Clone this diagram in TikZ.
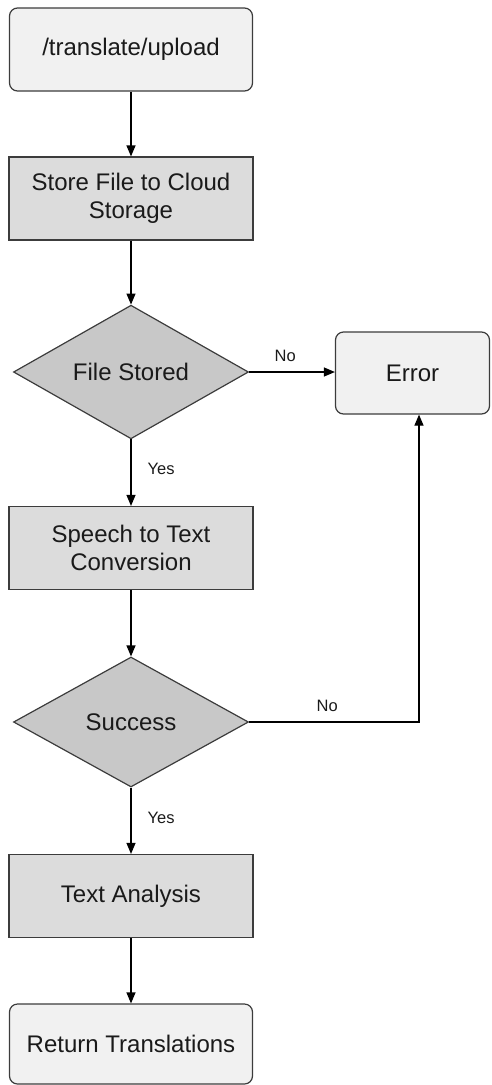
\documentclass[tikz,border=0pt]{standalone}
\usepackage{fontspec}
\setmainfont{Liberation Sans}
\usetikzlibrary{shapes.geometric,arrows.meta}

\definecolor{edge}{HTML}{3C3C3C}
\definecolor{termfill}{HTML}{F1F1F1}
\definecolor{procfill}{HTML}{DCDCDC}
\definecolor{decfill}{HTML}{C8C8C8}
\definecolor{ink}{HTML}{1A1A1A}

\tikzset{
  base/.style={draw=edge, line width=1.2pt, text=ink, align=center,
    font=\fontsize{24}{28}\selectfont, inner sep=0pt},
  term/.style={base, fill=termfill, rounded corners=8pt,
    minimum width=243pt, minimum height=83pt},
  proc/.style={base, fill=procfill, minimum width=244pt, minimum height=83pt},
  decision/.style={base, diamond, fill=decfill, minimum width=235pt, minimum height=130pt},
  arr/.style={draw=black, line width=1.2pt, -{Triangle[length=11pt,width=9pt]}},
  lbl/.style={font=\fontsize{16.5}{18}\selectfont, text=ink, inner sep=0pt}
}

\begin{document}
\begin{tikzpicture}[x=1pt,y=-1pt]
\useasboundingbox (0,0) rectangle (491,1085);

% main column
\node[term]     (upload)  at (131,49.5)  {/translate/upload};
\node[proc]     (store)   at (131,198.5) {Store File to Cloud\\Storage};
\node[decision] (stored)  at (131,372)   {File Stored};
\node[proc]     (speech)  at (131,548)   {Speech to Text\\Conversion};
\node[decision] (success) at (131,722)   {Success};
\node[proc]     (analysis) at (131,896)  {Text Analysis};
\node[term, minimum height=80pt] (result) at (131,1044) {Return Translations};

% error branch
\node[term, minimum width=154pt, minimum height=82pt] (error) at (412.5,373) {Error};
\coordinate (riser) at (419,0);

% connectors
\draw[arr] (upload) -- (store);
\draw[arr] (store) -- (stored);
\draw[arr] (stored) -- node[lbl, pos=0.45, right=16pt] {Yes} (speech);
\draw[arr] (speech) -- (success);
\draw[arr] (success) -- node[lbl, pos=0.45, right=16pt] {Yes} (analysis);
\draw[arr] (analysis) -- (result);
\draw[arr] (stored.east) -- node[lbl, pos=0.42, above=10pt] {No} (error.west |- stored.east);
\draw[arr] (success.east) -- node[lbl, pos=0.46, above=10pt] {No} (success.east -| riser)
  -- (riser |- error.south);
\end{tikzpicture}
\end{document}
